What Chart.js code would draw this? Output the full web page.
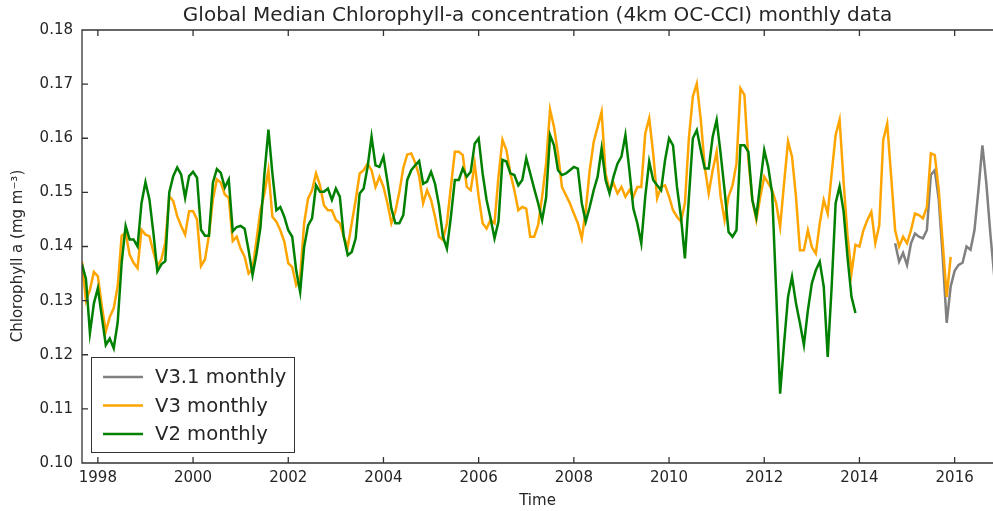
<!DOCTYPE html>
<html>
<head>
<meta charset="utf-8">
<script src="https://cdn.jsdelivr.net/npm/chart.js@4.4.1/dist/chart.umd.min.js"></script>
<style>
  html, body { margin: 0; padding: 0; background: #fff; }
</style>
</head>
<body>
<canvas id="chlChart" width="993" height="511"></canvas>
<script>
// monthly medians (mg m-3), one value per month
const v2Start = [1997, 9];
const v2Monthly = [
  0.1367, 0.1340, 0.1240, 0.1295,                                                                 // 1997 Sep-Dec
  0.1323, 0.1270, 0.1218, 0.1230, 0.1212, 0.1260, 0.1370, 0.1438, 0.1413, 0.1413, 0.1400, 0.1480, // 1998
  0.1519, 0.1487, 0.1425, 0.1354, 0.1367, 0.1373, 0.1500, 0.1530, 0.1546, 0.1533, 0.1490, 0.1530, // 1999
  0.1538, 0.1527, 0.1431, 0.1420, 0.1420, 0.1518, 0.1543, 0.1536, 0.1509, 0.1524, 0.1428, 0.1436, // 2000
  0.1438, 0.1433, 0.1393, 0.1347, 0.1387, 0.1436, 0.1535, 0.1616, 0.1535, 0.1467, 0.1473, 0.1455, // 2001
  0.1430, 0.1418, 0.1356, 0.1316, 0.1399, 0.1439, 0.1452, 0.1513, 0.1501, 0.1501, 0.1507, 0.1486, // 2002
  0.1507, 0.1492, 0.1418, 0.1384, 0.1390, 0.1415, 0.1498, 0.1507, 0.1547, 0.1603, 0.1550, 0.1547, // 2003
  0.1566, 0.1520, 0.1470, 0.1443, 0.1443, 0.1458, 0.1523, 0.1541, 0.1550, 0.1558, 0.1516, 0.1520, // 2004
  0.1538, 0.1516, 0.1476, 0.1418, 0.1396, 0.1455, 0.1523, 0.1523, 0.1544, 0.1529, 0.1538, 0.1590, // 2005
  0.1600, 0.1535, 0.1486, 0.1452, 0.1415, 0.1446, 0.1560, 0.1557, 0.1535, 0.1532, 0.1513, 0.1523, // 2006
  0.1563, 0.1535, 0.1507, 0.1480, 0.1449, 0.1490, 0.1606, 0.1587, 0.1541, 0.1532, 0.1535, 0.1541, // 2007
  0.1547, 0.1544, 0.1480, 0.1446, 0.1473, 0.1504, 0.1529, 0.1581, 0.1523, 0.1498, 0.1529, 0.1553, // 2008
  0.1566, 0.1606, 0.1541, 0.1470, 0.1443, 0.1406, 0.1492, 0.1557, 0.1523, 0.1513, 0.1504, 0.1560, // 2009
  0.1600, 0.1587, 0.1510, 0.1455, 0.1378, 0.1490, 0.1600, 0.1615, 0.1578, 0.1544, 0.1544, 0.1603, // 2010
  0.1634, 0.1572, 0.1504, 0.1427, 0.1418, 0.1430, 0.1587, 0.1587, 0.1575, 0.1486, 0.1455, 0.1517, // 2011
  0.1578, 0.1547, 0.1498, 0.1319, 0.1128, 0.1221, 0.1307, 0.1344, 0.1295, 0.1258, 0.1218, 0.1282, // 2012
  0.1332, 0.1356, 0.1372, 0.1326, 0.1196, 0.1326, 0.1480, 0.1511, 0.1465, 0.1380, 0.1307, 0.1277  // 2013
];

const v3Start = [1997, 9];
const v3Monthly = [
  0.1372, 0.1300, 0.1320, 0.1353,                                                                 // 1997 Sep-Dec
  0.1345, 0.1290, 0.1243, 0.1270, 0.1286, 0.1327, 0.1420, 0.1425, 0.1385, 0.1370, 0.1360, 0.1431, // 1998
  0.1422, 0.1419, 0.1390, 0.1364, 0.1376, 0.1407, 0.1493, 0.1484, 0.1456, 0.1438, 0.1422, 0.1465, // 1999
  0.1465, 0.1450, 0.1364, 0.1376, 0.1420, 0.1487, 0.1524, 0.1518, 0.1496, 0.1490, 0.1410, 0.1418, // 2000
  0.1396, 0.1381, 0.1350, 0.1359, 0.1412, 0.1467, 0.1498, 0.1541, 0.1455, 0.1446, 0.1430, 0.1409, // 2001
  0.1369, 0.1362, 0.1329, 0.1344, 0.1443, 0.1489, 0.1504, 0.1535, 0.1513, 0.1476, 0.1467, 0.1467, // 2002
  0.1449, 0.1443, 0.1418, 0.1399, 0.1443, 0.1486, 0.1535, 0.1541, 0.1553, 0.1541, 0.1510, 0.1529, // 2003
  0.1510, 0.1480, 0.1443, 0.1465, 0.1500, 0.1545, 0.1570, 0.1572, 0.1555, 0.1530, 0.1480, 0.1504, // 2004
  0.1486, 0.1455, 0.1418, 0.1412, 0.1443, 0.1510, 0.1575, 0.1575, 0.1569, 0.1510, 0.1504, 0.1553, // 2005
  0.1492, 0.1443, 0.1433, 0.1449, 0.1443, 0.1529, 0.1597, 0.1578, 0.1535, 0.1504, 0.1467, 0.1473, // 2006
  0.1470, 0.1418, 0.1418, 0.1440, 0.1492, 0.1553, 0.1653, 0.1621, 0.1572, 0.1510, 0.1495, 0.1480, // 2007
  0.1461, 0.1443, 0.1415, 0.1467, 0.1541, 0.1593, 0.1621, 0.1649, 0.1535, 0.1504, 0.1517, 0.1498, // 2008
  0.1510, 0.1492, 0.1504, 0.1492, 0.1510, 0.1510, 0.1609, 0.1637, 0.1572, 0.1489, 0.1510, 0.1513, // 2009
  0.1492, 0.1467, 0.1455, 0.1446, 0.1480, 0.1600, 0.1677, 0.1701, 0.1634, 0.1547, 0.1498, 0.1541, // 2010
  0.1575, 0.1492, 0.1449, 0.1492, 0.1513, 0.1553, 0.1692, 0.1680, 0.1560, 0.1486, 0.1449, 0.1492, // 2011
  0.1529, 0.1517, 0.1504, 0.1480, 0.1436, 0.1517, 0.1594, 0.1566, 0.1492, 0.1393, 0.1393, 0.1430, // 2012
  0.1399, 0.1387, 0.1443, 0.1486, 0.1461, 0.1535, 0.1606, 0.1634, 0.1520, 0.1420, 0.1351, 0.1403, // 2013
  0.1400, 0.1430, 0.1449, 0.1464, 0.1406, 0.1439, 0.1597, 0.1627, 0.1529, 0.1430, 0.1400, 0.1418, // 2014
  0.1406, 0.1430, 0.1461, 0.1458, 0.1452, 0.1473, 0.1572, 0.1569, 0.1504, 0.1406, 0.1307, 0.1381  // 2015
];

const v31Start = [2014, 10];
const v31Monthly = [
  0.1406, 0.1372, 0.1388,                                                                         // 2014 Oct-Dec
  0.1366, 0.1406, 0.1424, 0.1418, 0.1415, 0.1430, 0.1532, 0.1541, 0.1486, 0.1380, 0.1259, 0.1326, // 2015
  0.1355, 0.1366, 0.1370, 0.1400, 0.1394, 0.1430, 0.1504, 0.1587, 0.1516, 0.1424, 0.1344          // 2016 Jan-Nov
];

const xTicks = [1998, 2000, 2002, 2004, 2006, 2008, 2010, 2012, 2014, 2016];
const yTicks = [0.10, 0.11, 0.12, 0.13, 0.14, 0.15, 0.16, 0.17, 0.18];
const xMin = 1997 + 8 / 12;   // Sep 1997
const xMax = 2016.806;
const yLabel = "Chlorophyll a (mg m\u207B\u00B3)";

// turn a start month + list of values into {x: decimal year, y} points
function toPoints(start, values) {
  return values.map((v, i) => ({ x: start[0] + (start[1] - 1 + i) / 12, y: v }));
}

const textColor = "#262626";
const frameColor = "#333333";

// matplotlib-style frame, inward ticks, y label and a boxed legend inside the plot
const frameAndLegend = {
  id: "frameAndLegend",
  afterDatasetsDraw(chart) {
    const { ctx, chartArea: a, scales } = chart;
    const x = scales.x, y = scales.y;
    ctx.save();
    ctx.strokeStyle = frameColor;
    ctx.lineWidth = 1.3;
    ctx.beginPath();
    ctx.moveTo(a.right + 2, a.top);
    ctx.lineTo(a.left, a.top);
    ctx.lineTo(a.left, a.bottom);
    ctx.lineTo(a.right + 2, a.bottom);
    xTicks.forEach((v) => {
      const px = x.getPixelForValue(v);
      ctx.moveTo(px, a.bottom); ctx.lineTo(px, a.bottom - 6);
      ctx.moveTo(px, a.top); ctx.lineTo(px, a.top + 6);
    });
    yTicks.forEach((v) => {
      const py = y.getPixelForValue(v);
      ctx.moveTo(a.left, py); ctx.lineTo(a.left + 6, py);
    });
    ctx.stroke();

    // y axis label
    ctx.save();
    ctx.translate(18, 256);
    ctx.rotate(-Math.PI / 2);
    ctx.font = "15px 'DejaVu Sans'";
    ctx.fillStyle = textColor;
    ctx.textAlign = "center";
    ctx.textBaseline = "middle";
    ctx.fillText(yLabel, 0, 0);
    ctx.restore();

    // legend box, lower left
    const bx = 91.5, by = 357.5, bw = 203, bh = 95;
    ctx.fillStyle = "#fff";
    ctx.fillRect(bx, by, bw, bh);
    ctx.lineWidth = 1;
    ctx.strokeStyle = frameColor;
    ctx.strokeRect(bx, by, bw, bh);
    const order = [2, 1, 0];
    ctx.font = "19.6px 'DejaVu Sans'";
    ctx.textBaseline = "middle";
    order.forEach((di, row) => {
      const ds = chart.data.datasets[di];
      const ly = 377 + row * 28.5;
      ctx.strokeStyle = ds.borderColor;
      ctx.lineWidth = 2.5;
      ctx.beginPath();
      ctx.moveTo(103, ly);
      ctx.lineTo(143, ly);
      ctx.stroke();
      ctx.fillStyle = textColor;
      ctx.fillText(ds.label, 155, ly + 1);
    });
    ctx.restore();
  },
};

const ctx = document.getElementById("chlChart").getContext("2d");
const chlChart = new Chart(ctx, {
  type: "line",
  data: {
    datasets: [
      { label: "V2 monthly", data: toPoints(v2Start, v2Monthly), borderColor: "#008000" },
      { label: "V3 monthly", data: toPoints(v3Start, v3Monthly), borderColor: "#ffa500" },
      { label: "V3.1 monthly", data: toPoints(v31Start, v31Monthly), borderColor: "#808080" },
    ],
  },
  options: {
    responsive: false,
    animation: false,
    devicePixelRatio: 1,
    parsing: false,
    elements: {
      line: { borderWidth: 2.5, tension: 0, fill: false },
      point: { radius: 0 },
    },
    layout: { padding: { top: 0, right: 0, bottom: 0, left: 0 } },
    plugins: {
      legend: { display: false },
      tooltip: { enabled: false },
      title: {
        display: true,
        fullSize: false,
        text: "Global Median Chlorophyll-a concentration (4km OC-CCI) monthly data",
        color: textColor,
        font: { family: "'DejaVu Sans'", size: 20, weight: "normal", lineHeight: 1.2 },
        padding: { top: 4, bottom: 2 },
      },
    },
    scales: {
      x: {
        type: "linear",
        min: xMin,
        max: xMax,
        afterBuildTicks: (s) => { s.ticks = xTicks.map((v) => ({ value: v })); },
        afterFit: (s) => { s.height = 48; },
        grid: { display: false, drawTicks: false },
        border: { display: false },
        ticks: {
          color: textColor,
          font: { family: "'DejaVu Sans'", size: 15 },
          padding: 6,
          maxRotation: 0,
          autoSkip: false,
          callback: (v) => String(v),
        },
        title: {
          display: true,
          text: "Time",
          color: textColor,
          font: { family: "'DejaVu Sans'", size: 15 },
          padding: { top: 0, bottom: 1 },
        },
      },
      y: {
        type: "linear",
        min: 0.10,
        max: 0.18,
        afterBuildTicks: (s) => { s.ticks = yTicks.map((v) => ({ value: v })); },
        afterFit: (s) => { s.width = 82; },
        grid: { display: false, drawTicks: false },
        border: { display: false },
        ticks: {
          color: textColor,
          font: { family: "'DejaVu Sans'", size: 15 },
          padding: 9,
          callback: (v) => v.toFixed(2),
        },
      },
    },
  },
  plugins: [frameAndLegend],
});
</script>
</body>
</html>
